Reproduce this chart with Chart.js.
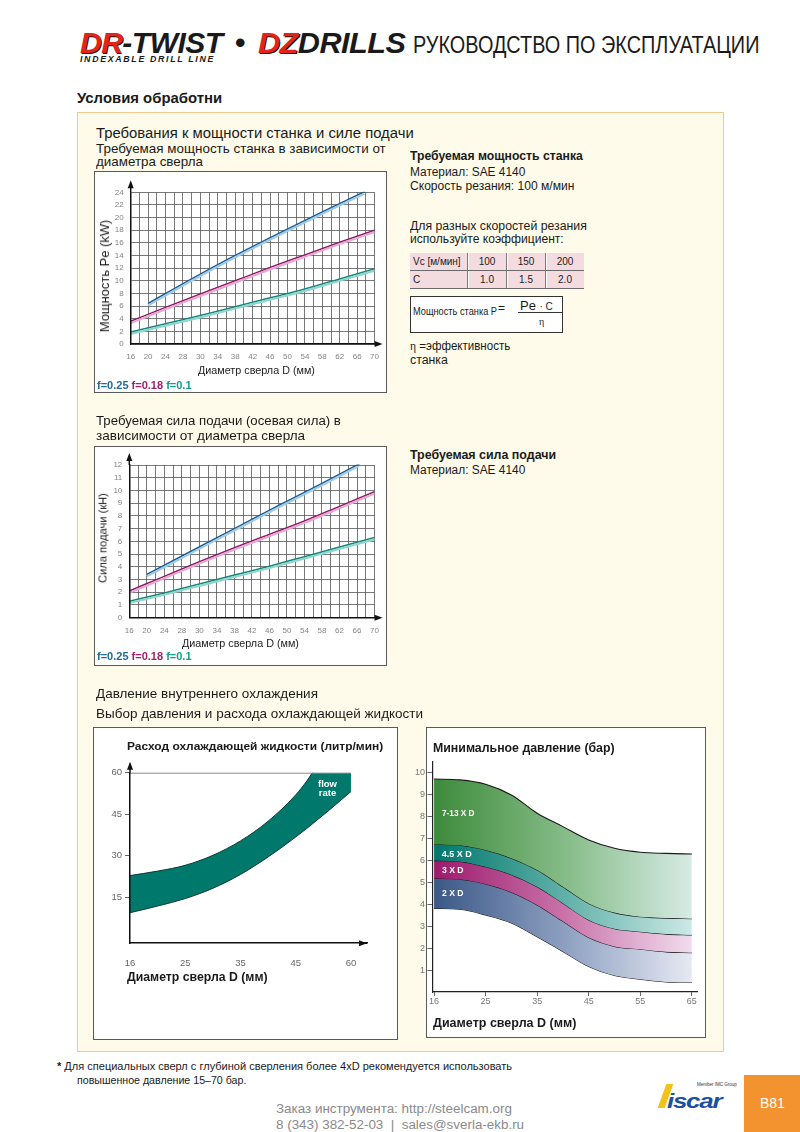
<!DOCTYPE html>
<html lang="ru"><head><meta charset="utf-8">
<title>DR-TWIST DZDRILLS</title>
<script src="https://cdn.jsdelivr.net/npm/chart.js@4.4.1/dist/chart.umd.min.js"></script>
<style>
html,body{margin:0;padding:0}
body{width:800px;height:1132px;position:relative;overflow:hidden;background:#fff;font-family:"Liberation Sans",Arial,Helvetica,sans-serif;color:#1a1a1a}
.t{position:absolute;white-space:nowrap;line-height:1;transform-origin:0 50%}
.b{font-weight:bold}
.rot{transform-origin:50% 50%}
.box{position:absolute;background:#fff;border:1px solid #5a5a5a;box-sizing:border-box}
canvas{position:absolute}
#panel{position:absolute;left:77px;top:112px;width:647px;height:940px;background:#fefbea;border:1.5px solid #f2c98c;box-sizing:border-box}
.tbl{position:absolute;left:410px;top:253px;border-collapse:collapse;background:#f3dbe0;font-size:10px}
.tbl td{padding:0;height:17px;border-bottom:1px solid #6a6a6a;text-align:center;color:#222}
.tbl td+td{border-left:1px solid #7a7a7a;box-shadow:inset 1px 0 0 #fff}
.tbl td:first-child{text-align:left;padding-left:3px}
</style></head><body>

<!-- header -->
<div class="t b" style="left:80px;top:28px;font-size:30px;font-style:italic;letter-spacing:-0.5px" data-w="143"><span style="color:#e3241b;text-shadow:1px 1px 0 #111">DR</span>-TWIST</div>
<div class="t b" style="left:235px;top:28px;font-size:30px">•</div>
<div class="t b" style="left:258px;top:28px;font-size:30px;font-style:italic;letter-spacing:-0.5px" data-w="147"><span style="color:#e3241b;text-shadow:1px 1px 0 #111">DZ</span>DRILLS</div>
<div class="t" style="left:413px;top:34px;font-size:23.5px" data-w="347">РУКОВОДСТВО ПО ЭКСПЛУАТАЦИИ</div>
<div class="t b" style="left:80px;top:54.5px;font-size:8.5px;font-style:italic;letter-spacing:1.6px" data-w="135">INDEXABLE DRILL LINE</div>

<div class="t b" style="left:77px;top:90px;font-size:15px" data-w="145">Условия обработни</div>
<div id="panel"></div>

<div class="t" style="left:96px;top:126.4px;font-size:14px" data-w="318">Требования к мощности станка и силе подачи</div>
<div class="t" style="left:96px;top:142px;font-size:13px" data-w="290">Требуемая мощность станка в зависимости от</div>
<div class="t" style="left:96px;top:154.5px;font-size:13px" data-w="107">диаметра сверла</div>

<!-- right block 1 -->
<div class="t b" style="left:410px;top:150.2px;font-size:12px" data-w="173">Требуемая мощность станка</div>
<div class="t" style="left:410px;top:165.8px;font-size:12px" data-w="115">Материал: SAE 4140</div>
<div class="t" style="left:410px;top:180.2px;font-size:12px" data-w="164">Скорость резания: 100 м/мин</div>
<div class="t" style="left:410px;top:219.5px;font-size:12px" data-w="177">Для разных скоростей резания</div>
<div class="t" style="left:410px;top:232.8px;font-size:12px" data-w="154">используйте коэффициент:</div>
<table class="tbl"><tbody>
<tr><td style="width:54px">Vc [м/мин]</td><td style="width:38px">100</td><td style="width:38px">150</td><td style="width:38px">200</td></tr>
<tr><td>C</td><td>1.0</td><td>1.5</td><td>2.0</td></tr>
</tbody></table>
<div style="position:absolute;left:410px;top:296px;width:153px;height:37px;border:1px solid #333;background:#fff;box-sizing:border-box"></div>
<div class="t" style="left:413px;top:307px;font-size:10px" data-w="84">Мощность станка P</div>
<div class="t" style="left:498px;top:302px;font-size:12px">=</div>
<div class="t" style="left:520px;top:299px;font-size:13px">Pe <span style="font-size:10px">· C</span></div>
<div style="position:absolute;left:518px;top:312px;width:44px;height:1px;background:#333"></div>
<div class="t" style="left:539px;top:317px;font-size:10px;font-family:'Liberation Serif',serif">η</div>
<div class="t" style="left:410px;top:340.2px;font-size:12px" data-w="100"><span style="font-family:'Liberation Serif',serif">η</span> =эффективность</div>
<div class="t" style="left:410px;top:353.5px;font-size:12px" data-w="38">станка</div>

<!-- chart 1 -->
<div class="box" style="left:94px;top:171px;width:293px;height:222px"></div>
<canvas id="c1"></canvas>
<div class="t rot" style="left:105px;top:276px;font-size:12px" data-w="112">Мощность Pe (kW)</div>
<div class="t" style="left:198px;top:365px;font-size:10.5px" data-w="117">Диаметр сверла D (мм)</div>
<div class="t b" style="left:97px;top:380px;font-size:11px" data-w="95"><span style="color:#1f6b9e">f=0.25</span> <span style="color:#a2206e">f=0.18</span> <span style="color:#11a08f">f=0.1</span></div>

<div class="t" style="left:96px;top:414px;font-size:13px" data-w="245">Требуемая сила подачи (осевая сила) в</div>
<div class="t" style="left:96px;top:429px;font-size:13px" data-w="209">зависимости от диаметра сверла</div>
<div class="t b" style="left:410px;top:448.5px;font-size:12px" data-w="146">Требуемая сила подачи</div>
<div class="t" style="left:410px;top:463.5px;font-size:12px" data-w="115">Материал: SAE 4140</div>

<!-- chart 2 -->
<div class="box" style="left:94px;top:446px;width:293px;height:220px"></div>
<canvas id="c2"></canvas>
<div class="t rot" style="left:103px;top:538px;font-size:11px" data-w="90">Сила подачи (кН)</div>
<div class="t" style="left:182px;top:637.6px;font-size:10.5px" data-w="117">Диаметр сверла D (мм)</div>
<div class="t b" style="left:97px;top:650.7px;font-size:11px" data-w="95"><span style="color:#1f6b9e">f=0.25</span> <span style="color:#a2206e">f=0.18</span> <span style="color:#11a08f">f=0.1</span></div>

<div class="t" style="left:96px;top:687px;font-size:13px" data-w="222">Давление внутреннего охлаждения</div>
<div class="t" style="left:96px;top:707px;font-size:13px" data-w="327">Выбор давления и расхода охлаждающей жидкости</div>

<!-- chart 3 -->
<div class="box" style="left:93px;top:727px;width:305px;height:313px"></div>
<canvas id="c3"></canvas>
<div class="t b" style="left:127px;top:740.5px;font-size:11.5px" data-w="256">Расход охлаждающей жидкости (литр/мин)</div>
<div class="t b" style="left:127px;top:971.2px;font-size:12px" data-w="141">Диаметр сверла D (мм)</div>
<div class="t b" style="left:318px;top:778.5px;font-size:9.5px;color:#fff;text-align:center;line-height:9px">flow<br>rate</div>

<!-- chart 4 -->
<div class="box" style="left:426px;top:727px;width:280px;height:311px"></div>
<canvas id="c4"></canvas>
<div class="t b" style="left:432.7px;top:741.8px;font-size:12px" data-w="182">Минимальное давление (бар)</div>
<div class="t b" style="left:432.7px;top:1016.8px;font-size:12px" data-w="144">Диаметр сверла D (мм)</div>
<div class="t b" style="left:441.7px;top:809px;font-size:9px;color:#fff" data-w="33">7-13 X D</div>
<div class="t b" style="left:441.7px;top:849.5px;font-size:9px;color:#fff" data-w="30">4.5 X D</div>
<div class="t b" style="left:441.7px;top:866px;font-size:9px;color:#fff" data-w="22">3 X D</div>
<div class="t b" style="left:441.7px;top:889.3px;font-size:9px;color:#fff" data-w="22">2 X D</div>

<!-- footer -->
<div class="t" style="left:57px;top:1061.6px;font-size:10px" data-w="455"><b>*</b> Для специальных сверл с глубиной сверления более 4xD рекомендуется использовать</div>
<div class="t" style="left:77px;top:1075.6px;font-size:10px" data-w="169">повышенное давление 15–70 бар.</div>
<div class="t" style="left:276px;top:1102.5px;font-size:12px;color:#8a8a8a" data-w="236">Заказ инструмента: http://steelcam.org</div>
<div class="t" style="left:276px;top:1118.5px;font-size:12px;color:#8a8a8a" data-w="248">8 (343) 382-52-03&nbsp; |&nbsp; sales@sverla-ekb.ru</div>

<div style="position:absolute;left:662px;top:1084px;width:7px;height:24px;background:#f3c21a;transform:skewX(-20deg)"></div>
<div class="t b" style="left:667px;top:1091px;font-size:20px;font-style:italic;color:#1b4f9f;letter-spacing:-1px" data-w="62">iscar</div>
<div class="t" style="left:697px;top:1083px;font-size:4.5px;color:#333">Member IMC Group</div>
<div style="position:absolute;left:744px;top:1075px;width:56px;height:57px;background:#f39330"></div>
<div class="t" style="left:760px;top:1096px;font-size:14px;color:#fff">B81</div>

<script>
// ================= DATA =================
// Chart 1 & 2: x axis tick labels (as printed, evenly spaced)
const xTickLabels12 = ['16','20','24','28','30','34','38','42','46','50','54','58','62','66','70'];

// Chart 1: required machine power Pe (kW) vs drill diameter
const powerD_f025 = [20, 30, 40, 50, 60, 69.7];
const power_f025  = [6.3, 10.2, 13.9, 17.4, 20.8, 24.0];
const powerD_f018 = [16, 24, 32, 40, 48, 56, 64, 72];
const power_f018  = [3.5, 5.7, 7.8, 9.9, 12.0, 14.0, 16.0, 17.9];
const powerD_f01  = [16, 24, 32, 40, 48, 56, 64, 72];
const power_f01   = [1.8, 3.1, 4.4, 5.8, 7.2, 8.6, 10.2, 11.8];

// Chart 2: required feed force (kN) vs drill diameter
const forceD_f025 = [20, 30, 40, 50, 60, 68.8];
const force_f025  = [3.35, 5.15, 6.95, 8.75, 10.5, 12.1];
const forceD_f018 = [16, 24, 32, 40, 48, 56, 64, 72];
const force_f018  = [2.05, 3.2, 4.35, 5.45, 6.5, 7.55, 8.7, 9.85];
const forceD_f01  = [16, 24, 32, 40, 48, 56, 64, 72];
const force_f01   = [1.25, 1.9, 2.6, 3.3, 4.0, 4.75, 5.5, 6.25];

// Chart 3: coolant flow rate band (l/min); the upper edge is cut off at the 60 line
const flowTickLabels = ['16','25','35','45','60'];
const flowYTicks = [15, 30, 45, 60];
const flowCap = 60;
const flowPos   = [0, 0.5, 1, 1.5, 2, 2.5, 3, 3.2, 3.3, 3.6, 4];
const flowUpper = [22.9, 24.5, 26.6, 30.2, 35.4, 42.5, 52.0, 57.0, 60.0, 69.0, 81.0];
const flowLower = [9.5, 11.9, 14.6, 18.3, 23.3, 29.6, 36.8, 39.9, 41.5, 46.4, 53.2];

// Chart 4: minimum coolant pressure (bar)
const pressTickLabels = ['16','25','35','45','55','65'];
const pressYTicks = [1,2,3,4,5,6,7,8,9,10];
const pressPos   = [0, 0.5, 1, 1.5, 2, 2.5, 3, 3.5, 4, 4.5, 5];
const press7_13  = [9.71, 9.67, 9.47, 8.98, 8.15, 7.54, 6.93, 6.55, 6.37, 6.32, 6.29];
const press4_5   = [6.73, 6.69, 6.47, 6.10, 5.56, 4.80, 4.04, 3.62, 3.43, 3.37, 3.34];
const press3     = [5.99, 5.95, 5.71, 5.35, 4.80, 4.05, 3.28, 2.88, 2.75, 2.64, 2.60];
const press2     = [5.18, 5.14, 4.92, 4.55, 3.97, 3.22, 2.48, 2.08, 1.95, 1.83, 1.79];
const pressBase  = [3.81, 3.77, 3.51, 3.15, 2.52, 1.85, 1.16, 0.75, 0.58, 0.46, 0.43];

// ================= HELPERS =================
const FONT = '"Liberation Sans", Arial, sans-serif';
const pts = (xs, ys) => xs.map((x, i) => ({x: x, y: ys[i]}));

function place(id, C) {
  const cv = document.getElementById(id);
  cv.width = C.w; cv.height = C.h;
  cv.style.left = C.x + 'px'; cv.style.top = C.y + 'px';
  cv.style.width = C.w + 'px'; cv.style.height = C.h + 'px';
  return cv;
}
function frame(C, P) {
  return { padding: {left: 0, top: P.t - C.y, right: C.x + C.w - P.r, bottom: 0},
           yW: P.l - C.x, xH: C.y + C.h - P.b };
}

const penShift = {
  id: 'penShift',
  beforeDatasetDraw(chart, args) {
    const s = chart.data.datasets[args.index].shift;
    if (s) { chart.ctx.save(); chart.ctx.translate(0, s); }
  },
  afterDatasetDraw(chart, args) {
    if (chart.data.datasets[args.index].shift) chart.ctx.restore();
  }
};

const axisArrows = {
  id: 'axisArrows',
  afterDatasetsDraw(chart, args, o) {
    if (!o || !o.on) return;
    const {ctx, chartArea: a} = chart;
    ctx.save();
    ctx.strokeStyle = '#111'; ctx.fillStyle = '#111'; ctx.lineWidth = 1.5;
    const ty = a.top - (o.extY || 0);
    ctx.beginPath(); ctx.moveTo(a.left, a.top); ctx.lineTo(a.left, ty + 3); ctx.stroke();
    ctx.beginPath(); ctx.moveTo(a.left, ty); ctx.lineTo(a.left - 3, ty + 8); ctx.lineTo(a.left + 3, ty + 8); ctx.closePath(); ctx.fill();
    const tx = a.right + (o.extX || 0);
    ctx.beginPath(); ctx.moveTo(a.right, a.bottom); ctx.lineTo(tx - 3, a.bottom); ctx.stroke();
    ctx.beginPath(); ctx.moveTo(tx, a.bottom); ctx.lineTo(tx - 8, a.bottom - 3); ctx.lineTo(tx - 8, a.bottom + 3); ctx.closePath(); ctx.fill();
    ctx.restore();
  }
};

const capLine = {
  id: 'capLine',
  afterDatasetsDraw(chart, args, o) {
    if (!o || o.value === undefined) return;
    const {ctx, scales: {x, y}} = chart;
    const py = y.getPixelForValue(o.value);
    ctx.save(); ctx.strokeStyle = '#8a8a8a'; ctx.lineWidth = 1;
    ctx.beginPath(); ctx.moveTo(x.getPixelForValue(o.from), py + 0.5); ctx.lineTo(x.getPixelForValue(o.to), py + 0.5); ctx.stroke();
    ctx.restore();
  }
};

function pen(xs, ys, color, shift, width) {
  return { data: pts(xs, ys), borderColor: color, borderWidth: width, shift: shift,
           pointRadius: 0, fill: false, cubicInterpolationMode: 'monotone' };
}

function gridChart(id, C, P, series, xLabels, yMax, yStep) {
  const f = frame(C, P);
  const grid = {color: '#555', lineWidth: 0.8, drawTicks: false};
  const border = {color: '#111', width: 1.5, z: 1};
  const tickFont = {family: FONT, size: 8};
  return new Chart(place(id, C), {
    type: 'line',
    data: {datasets: series},
    options: {
      responsive: false, animation: false, events: [],
      layout: {padding: f.padding},
      plugins: {legend: {display: false}, tooltip: {enabled: false}, axisArrows: {on: true, extX: 8, extY: 12}},
      scales: {
        x: {type: 'linear', min: 16, max: 72, afterFit: s => { s.height = f.xH; },
            grid: grid, border: border,
            ticks: {stepSize: 2, autoSkip: false, maxRotation: 0, minRotation: 0, padding: 8,
                    color: '#858585', font: tickFont,
                    callback: v => { const k = Math.round(v - 16); return k % 4 === 0 ? xLabels[k / 4] : ''; }}},
        y: {type: 'linear', min: 0, max: yMax, afterFit: s => { s.width = f.yW; },
            grid: grid, border: border,
            ticks: {stepSize: yStep, padding: 7, color: '#858585', font: tickFont}}
      }
    },
    plugins: [penShift, axisArrows]
  });
}

// ================= CHART 1 =================
gridChart('c1', {x: 94, y: 171, w: 293, h: 222}, {l: 130.7, r: 377.3, t: 192.3, b: 344}, [
  pen(powerD_f01, power_f01, '#8fd6cf', 1.2, 2.2),
  pen(powerD_f01, power_f01, '#15857a', -0.6, 1.6),
  pen(powerD_f018, power_f018, '#e6a8d6', 1.2, 2.2),
  pen(powerD_f018, power_f018, '#8a1c62', -0.6, 1.6),
  pen(powerD_f025, power_f025, '#9fcbe8', 1.2, 2.2),
  pen(powerD_f025, power_f025, '#1f5a8c', -0.6, 1.6)
], xTickLabels12, 24, 2);

// ================= CHART 2 =================
gridChart('c2', {x: 94, y: 446, w: 293, h: 220}, {l: 129.3, r: 375.7, t: 465, b: 617.7}, [
  pen(forceD_f01, force_f01, '#8fd6cf', 1.2, 2.2),
  pen(forceD_f01, force_f01, '#15857a', -0.6, 1.6),
  pen(forceD_f018, force_f018, '#e6a8d6', 1.2, 2.2),
  pen(forceD_f018, force_f018, '#8a1c62', -0.6, 1.6),
  pen(forceD_f025, force_f025, '#9fcbe8', 1.2, 2.2),
  pen(forceD_f025, force_f025, '#1f5a8c', -0.6, 1.6)
], xTickLabels12, 12, 1);

// ================= CHART 3 =================
(function () {
  const C = {x: 93, y: 727, w: 305, h: 313};
  const f = frame(C, {l: 130, r: 367, t: 772.7, b: 943.2});
  new Chart(place('c3', C), {
    type: 'line',
    data: {datasets: [
      {data: pts(flowPos, flowUpper), borderColor: '#0c3b35', borderWidth: 1, pointRadius: 0, fill: false, cubicInterpolationMode: 'monotone'},
      {data: pts(flowPos, flowLower), borderColor: '#0c3b35', borderWidth: 1, pointRadius: 0, fill: '-1', backgroundColor: '#00796c', cubicInterpolationMode: 'monotone'}
    ]},
    options: {
      responsive: false, animation: false, events: [],
      layout: {padding: f.padding},
      plugins: {legend: {display: false}, tooltip: {enabled: false},
                axisArrows: {on: true, extX: 0, extY: 11},
                capLine: {value: flowCap, from: flowPos[0], to: flowPos[flowPos.length - 1]}},
      scales: {
        x: {type: 'linear', min: 0, max: 4.29, afterFit: s => { s.height = f.xH; },
            afterBuildTicks: s => { s.ticks = flowTickLabels.map((_, i) => ({value: i})); },
            grid: {display: false}, border: {color: '#111', width: 1.5, z: 1},
            ticks: {autoSkip: false, maxRotation: 0, padding: 6, color: '#666', font: {family: FONT, size: 9.5},
                    callback: v => flowTickLabels[v]}},
        y: {type: 'linear', min: -1.5, max: flowCap, afterFit: s => { s.width = f.yW; },
            afterBuildTicks: s => { s.ticks = flowYTicks.map(v => ({value: v})); },
            grid: {drawOnChartArea: false, drawTicks: true, tickLength: 5, color: '#666'},
            border: {color: '#111', width: 1.5, z: 1},
            ticks: {autoSkip: false, padding: 3, color: '#666', font: {family: FONT, size: 9.5}}}
      }
    },
    plugins: [capLine, axisArrows]
  });
})();

// ================= CHART 4 =================
(function () {
  const C = {x: 410, y: 727, w: 296, h: 311};
  const f = frame(C, {l: 432.5, r: 697, t: 761.7, b: 992});
  const grad = (stops) => (ctx) => {
    const ch = ctx.chart;
    if (!ch.chartArea || !ch.scales.x) return stops[0];
    const x0 = ch.scales.x.getPixelForValue(pressPos[0]);
    const x1 = ch.scales.x.getPixelForValue(pressPos[pressPos.length - 1]);
    const g = ch.ctx.createLinearGradient(x0, 0, x1, 0);
    stops.forEach((c, i) => g.addColorStop(i / (stops.length - 1), c));
    return g;
  };
  const band = (ys, fill, stops) => ({
    data: pts(pressPos, ys), borderColor: '#1a1a1a', borderWidth: 1.1, pointRadius: 0,
    cubicInterpolationMode: 'monotone', fill: fill, backgroundColor: stops ? grad(stops) : 'transparent'
  });
  new Chart(place('c4', C), {
    type: 'line',
    data: {datasets: [
      band(press7_13, '+1', ['#3d8a3b', '#84bb86', '#d6ebe5']),
      band(press4_5, '+1', ['#00766c', '#5fb0a8', '#cde9e6']),
      band(press3, '+1', ['#9c1a6c', '#c872a9', '#f1dcee']),
      band(press2, '+1', ['#3b5886', '#8c9fc0', '#e6e9f2']),
      band(pressBase, false, null)
    ]},
    options: {
      responsive: false, animation: false, events: [],
      layout: {padding: f.padding},
      plugins: {legend: {display: false}, tooltip: {enabled: false}},
      scales: {
        x: {type: 'linear', min: -0.03, max: 5.1, afterFit: s => { s.height = f.xH; },
            afterBuildTicks: s => { s.ticks = pressTickLabels.map((_, i) => ({value: i})); },
            grid: {drawOnChartArea: false, drawTicks: true, tickLength: 4, color: '#666'},
            border: {color: '#222', width: 1.2, z: 1},
            ticks: {autoSkip: false, maxRotation: 0, padding: 0.5, color: '#777', font: {family: FONT, size: 9},
                    callback: v => pressTickLabels[v]}},
        y: {type: 'linear', min: 0, max: 10.5, afterFit: s => { s.width = f.yW; },
            afterBuildTicks: s => { s.ticks = pressYTicks.map(v => ({value: v})); },
            grid: {drawOnChartArea: false, drawTicks: true, tickLength: 5, color: '#666'},
            border: {color: '#222', width: 1.2, z: 1},
            ticks: {autoSkip: false, padding: 2.5, color: '#777', font: {family: FONT, size: 9}}}
      }
    }
  });
})();

// ================= text width fitting =================
document.querySelectorAll('[data-w]').forEach(el => {
  const target = +el.dataset.w;
  const w = el.offsetWidth;
  if (!w) return;
  const s = Math.max(0.75, Math.min(1.3, target / w));
  if (el.classList.contains('rot')) {
    el.style.transform = 'translate(-50%,-50%) rotate(-90deg) scaleX(' + s.toFixed(3) + ')';
  } else {
    el.style.transform = 'scaleX(' + s.toFixed(3) + ')';
  }
});
</script>
</body></html>
